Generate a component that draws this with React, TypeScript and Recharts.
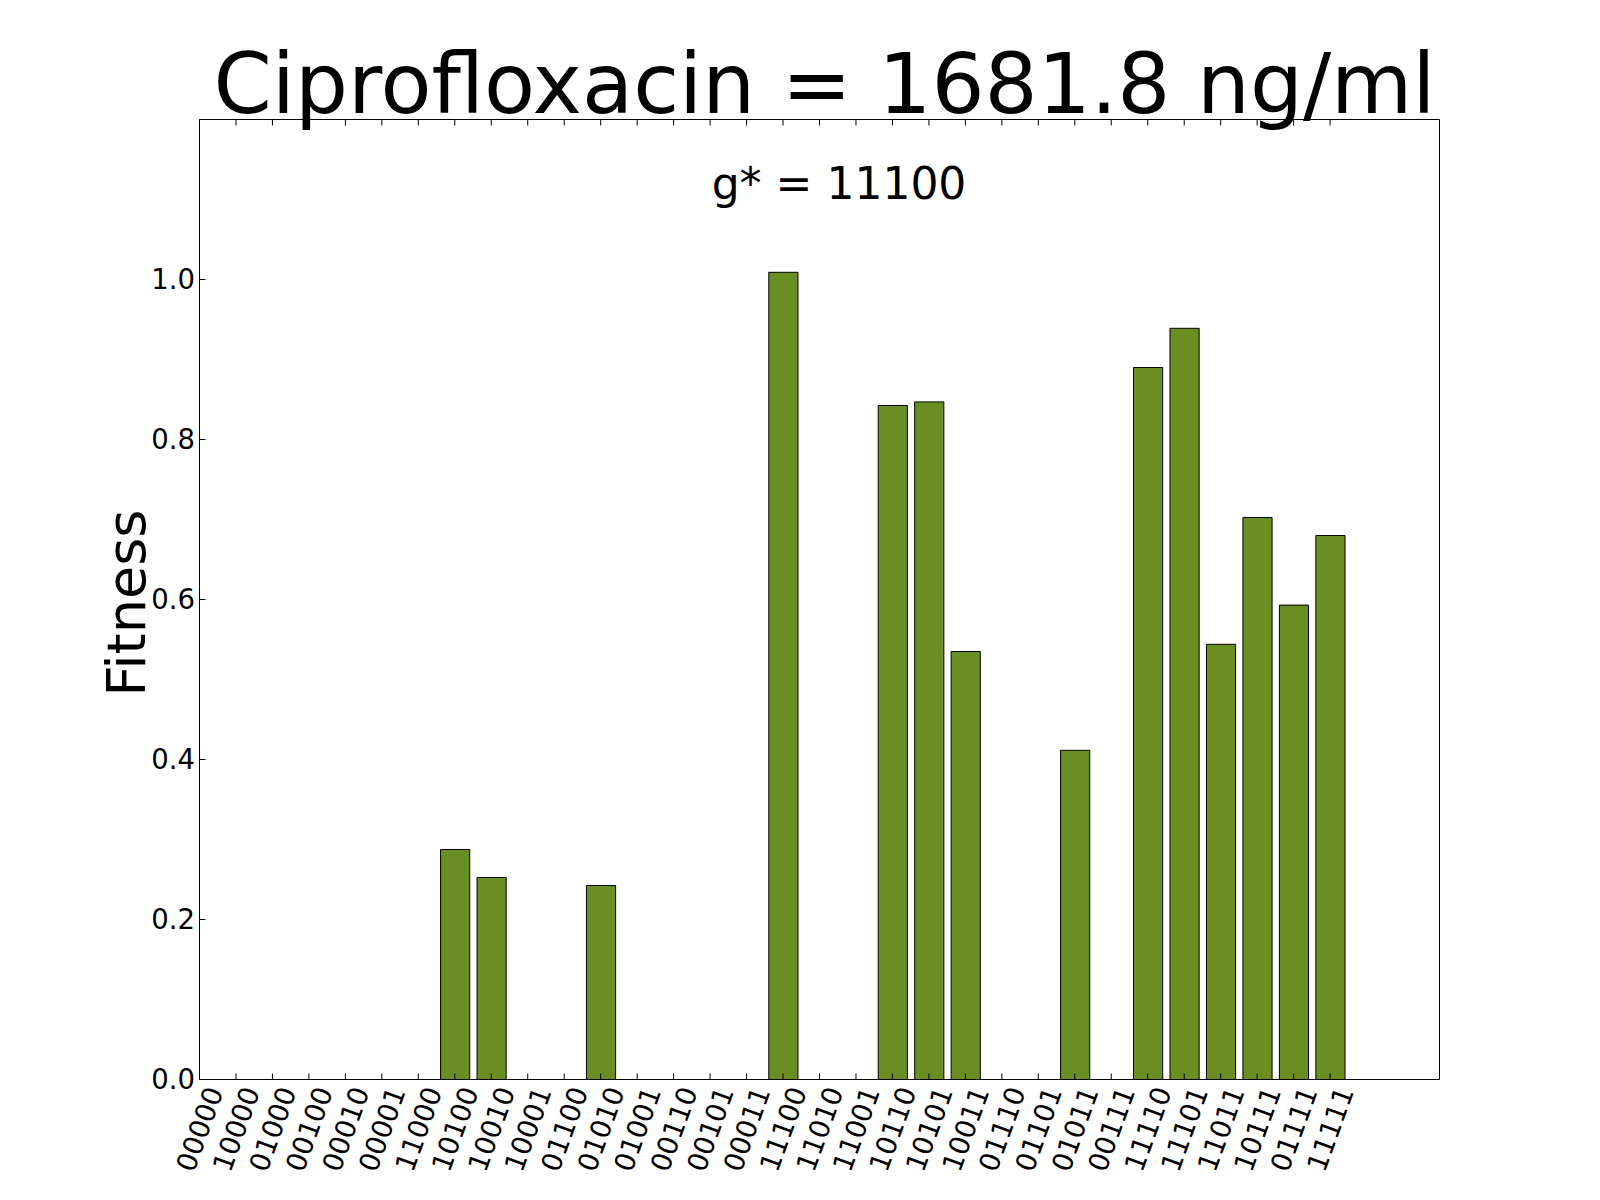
import React from 'react';
import { BarChart, Bar, XAxis, YAxis } from 'recharts';

// ---------- data ----------
const genotypes = [
  '00000', '10000', '01000', '00100', '00010', '00001', '11000', '10100',
  '10010', '10001', '01100', '01010', '01001', '00110', '00101', '00011',
  '11100', '11010', '11001', '10110', '10101', '10011', '01110', '01101',
  '01011', '00111', '11110', '11101', '11011', '10111', '01111', '11111',
];
const fitnessValues = [
  0, 0, 0, 0, 0, 0, 0, 0.2875,
  0.2525, 0, 0, 0.2425, 0, 0, 0, 0,
  1.009, 0, 0, 0.8425, 0.847, 0.535, 0, 0,
  0.4115, 0, 0.89, 0.939, 0.544, 0.7025, 0.593, 0.68,
];
const yTicks = [0, 0.2, 0.4, 0.6, 0.8, 1.0];
const xDomain = [0, 34];
const yDomain = [0, 1.2];
const titleText = 'Ciprofloxacin = 1681.8 ng/ml';
const annotationText = 'g* = 11100';
const yLabelText = 'Fitness';

const data = genotypes.map((g, i) => ({ x: i, genotype: g, fitness: fitnessValues[i] }));
const xTicks = genotypes.map((_, i) => i);

// ---------- layout ----------
const W = 1600;
const H = 1200;
const PLOT_LEFT = 199.5;
const PLOT_TOP = 119.5;
const PLOT_RIGHT = 1439.5;
const PLOT_BOTTOM = 1079.5;
const FONT = '"DejaVu Sans", sans-serif';
const BAR_COLOR = '#6B8E23';
const UNIT = (PLOT_RIGHT - PLOT_LEFT) / (xDomain[1] - xDomain[0]);

const XTick = (props: any) => {
  const { payload } = props;
  const cx = payload.coordinate;
  const cy = PLOT_BOTTOM + 49.5;
  return (
    <text
      x={cx}
      y={cy}
      dy="0.36em"
      textAnchor="middle"
      transform={`rotate(-70 ${cx} ${cy})`}
      fontFamily={FONT}
      fontSize={27.5}
      fill="#000"
    >
      {genotypes[payload.value]}
    </text>
  );
};

const YTick = (props: any) => {
  const { payload } = props;
  const cy = payload.coordinate;
  return (
    <text
      x={PLOT_LEFT - 4.5}
      y={cy}
      dy="0.36em"
      textAnchor="end"
      fontFamily={FONT}
      fontSize={27.5}
      fill="#000"
    >
      {Number(payload.value).toFixed(1)}
    </text>
  );
};

const EmptyTick = () => <g />;

export default function App() {
  return (
    <div style={{ position: 'absolute', left: 0, top: 0, width: W, height: H, background: '#fff' }}>
      <BarChart
        width={W}
        height={H}
        data={data}
        margin={{ top: PLOT_TOP - 20, right: W - PLOT_RIGHT - 20, bottom: H - PLOT_BOTTOM - 100, left: PLOT_LEFT - 60 }}
        barCategoryGap={0}
      >
        <XAxis
          xAxisId="b"
          type="number"
          dataKey="x"
          domain={xDomain}
          ticks={xTicks}
          interval={0}
          height={100}
          tickSize={-6}
          tickLine={{ stroke: '#000', strokeWidth: 1 }}
          axisLine={{ stroke: '#000', strokeWidth: 1 }}
          tick={XTick}
        />
        <XAxis
          xAxisId="t"
          orientation="top"
          type="number"
          dataKey="x"
          domain={xDomain}
          ticks={xTicks}
          interval={0}
          height={20}
          tickSize={-6}
          tickLine={{ stroke: '#000', strokeWidth: 1 }}
          axisLine={{ stroke: '#000', strokeWidth: 1 }}
          tick={EmptyTick}
        />
        <YAxis
          yAxisId="l"
          type="number"
          domain={yDomain}
          ticks={yTicks}
          interval={0}
          width={60}
          tickSize={-6}
          tickLine={{ stroke: '#000', strokeWidth: 1 }}
          axisLine={{ stroke: '#000', strokeWidth: 1 }}
          tick={YTick}
        />
        <YAxis
          yAxisId="r"
          orientation="right"
          type="number"
          domain={yDomain}
          ticks={yTicks}
          interval={0}
          width={20}
          tickSize={-6}
          tickLine={{ stroke: '#000', strokeWidth: 1 }}
          axisLine={{ stroke: '#000', strokeWidth: 1 }}
          tick={EmptyTick}
        />
        <Bar
          xAxisId="b"
          yAxisId="l"
          dataKey="fitness"
          barSize={UNIT * 0.8}
          fill={BAR_COLOR}
          stroke="#000"
          strokeWidth={1}
          isAnimationActive={false}
        />
      </BarChart>
      <svg
        width={W}
        height={H}
        style={{ position: 'absolute', left: 0, top: 0, pointerEvents: 'none' }}
      >
        <text x={824.5} y={112.5} textAnchor="middle" fontFamily={FONT} fontSize={83.5} fill="#000">
          {titleText}
        </text>
        <text x={839} y={199} textAnchor="middle" fontFamily={FONT} fontSize={44} fill="#000">
          {annotationText}
        </text>
        <text
          x={145}
          y={603}
          textAnchor="middle"
          transform="rotate(-90 145 603)"
          fontFamily={FONT}
          fontSize={54}
          fill="#000"
        >
          {yLabelText}
        </text>
      </svg>
    </div>
  );
}
